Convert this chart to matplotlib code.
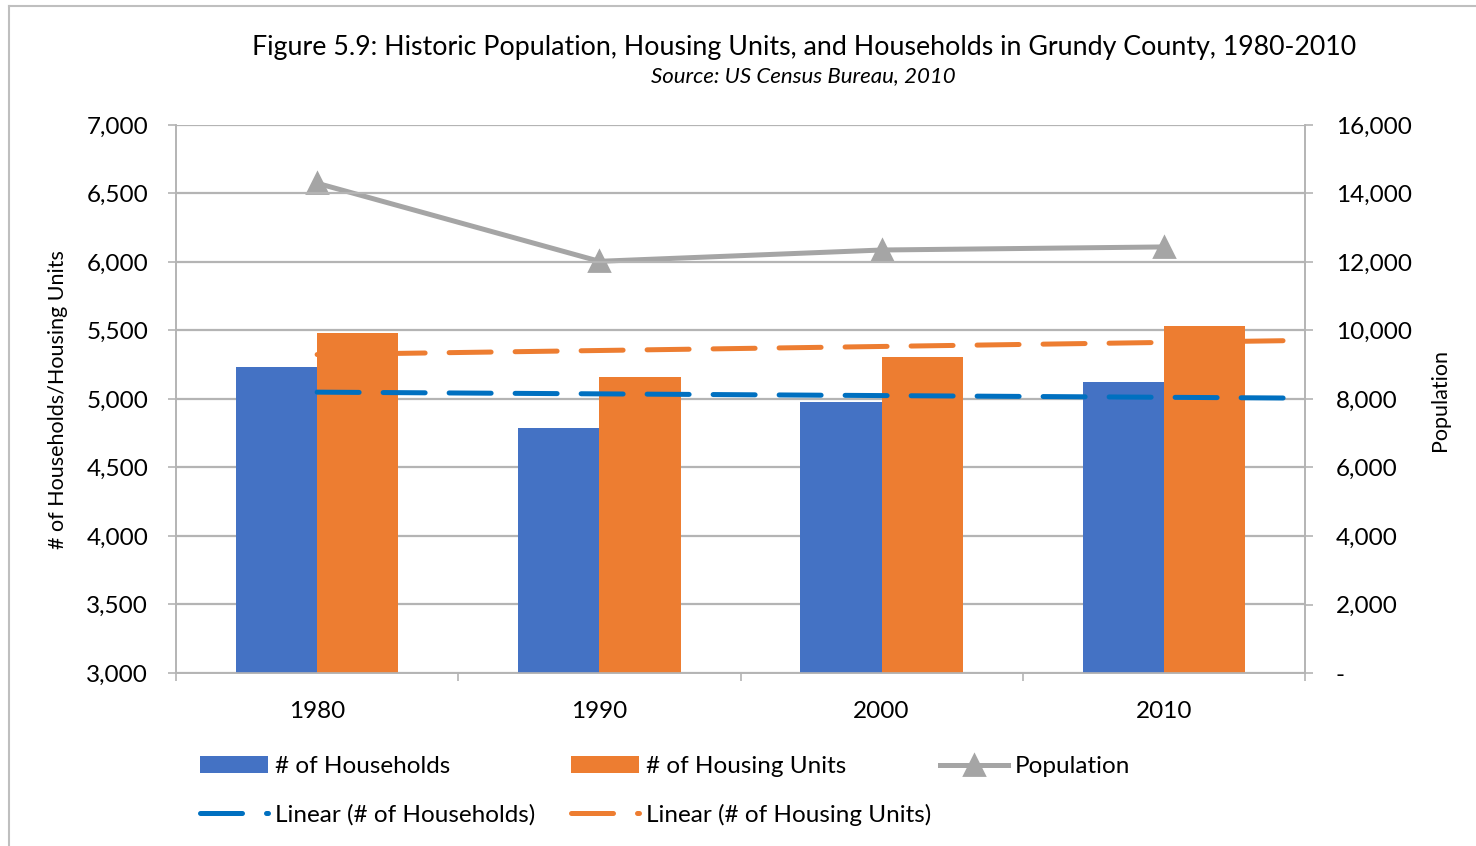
import numpy as np
import matplotlib.pyplot as plt
from matplotlib.lines import Line2D
from matplotlib.ticker import FuncFormatter, FixedLocator

plt.rcParams['font.family'] = ['Lato', 'DejaVu Sans']

# data
years = ['1980', '1990', '2000', '2010']
households = [5230, 4790, 4980, 5125]
housing_units = [5480, 5160, 5305, 5530]
population = [14300, 12020, 12350, 12440]

x = np.arange(len(years))
bar_w = 0.2875

# linear trendlines (least squares, like Excel)
hh_fit = np.polyfit(x, households, 1)
hu_fit = np.polyfit(x, housing_units, 1)
trend_x = np.array([0, 3.45])

fig = plt.figure(figsize=(14.76, 8.46), dpi=100)
ax = fig.add_axes([176 / 1476, 173 / 846, 1129 / 1476, 548 / 846])
ax2 = ax.twinx()

grid_c = '#b4b4b4'
ax.set_ylim(3000, 7000)
ax.set_xlim(-0.5, 3.5)
ax.set_yticks(range(3000, 7001, 500))
ax.yaxis.grid(True, color=grid_c, linewidth=1.6)
ax.set_axisbelow(True)

b1 = ax.bar(x - bar_w / 2, households, bar_w, color='#4472c4', label='# of Households', zorder=2)
b2 = ax.bar(x + bar_w / 2, housing_units, bar_w, color='#ed7d31', label='# of Housing Units', zorder=2)

dash = dict(linewidth=3.6, dashes=(8.4, 4.8), dash_capstyle='round', solid_capstyle='round', zorder=4)
t1, = ax.plot(trend_x, np.polyval(hh_fit, trend_x), color='#0070c0', label='Linear (# of Households)', **dash)
t2, = ax.plot(trend_x, np.polyval(hu_fit, trend_x), color='#ed7d31', label='Linear (# of Housing Units)', **dash)

ax2.set_ylim(0, 16000)
ax2.set_yticks(range(0, 16001, 2000))
p1, = ax2.plot(x, population, color='#a5a5a5', linewidth=3.6, marker='^', markersize=15,
               markeredgewidth=2, markeredgecolor='#a5a5a5', label='Population', zorder=5)
ax.set_zorder(ax2.get_zorder() + 1)
ax.patch.set_visible(False)

fmt = FuncFormatter(lambda v, p: '-' if v == 0 else f'{v:,.0f}')
ax.yaxis.set_major_formatter(FuncFormatter(lambda v, p: f'{v:,.0f}'))
ax2.yaxis.set_major_formatter(fmt)

ax.set_xticks(x)
ax.set_xticklabels(years)
ax.xaxis.set_minor_locator(FixedLocator([-0.5, 0.5, 1.5, 2.5, 3.5]))
ax.tick_params(axis='x', which='major', length=0, pad=20, labelsize=17.5)
ax.tick_params(axis='x', which='minor', length=6, width=1.2, color=grid_c)
ax.tick_params(axis='y', length=6, width=1.2, color=grid_c, pad=14, labelsize=17.5)
ax2.tick_params(axis='y', length=6, width=1.2, color=grid_c, pad=16, labelsize=17.5)

for a in (ax, ax2):
    a.spines['top'].set_visible(False)
    for s in ('left', 'right', 'bottom'):
        a.spines[s].set_color(grid_c)
        a.spines[s].set_linewidth(1.2)

fig.text(58 / 1476, 1 - 400 / 846, '# of Households/Housing Units', rotation=90,
         ha='center', va='center', fontsize=15.5)
fig.text(1440 / 1476, 1 - 400 / 846, 'Population', rotation=90,
         ha='center', va='center', fontsize=15.5)

fig.text(804 / 1476, 1 - 47 / 846, 'Figure 5.9: Historic Population, Housing Units, and Households in Grundy County, 1980-2010',
         ha='center', va='center', fontsize=19.25)
fig.text(803 / 1476, 1 - 76 / 846, 'Source: US Census Bureau, 2010',
         ha='center', va='center', fontsize=16, style='italic')

# legend laid out in three fixed-width columns, like Excel
leg_cols = [([b1, t1], 200), ([b2, t2], 571), ([p1], 940)]
for hs, left in leg_cols:
    fig.legend(handles=hs, labels=[h.get_label() for h in hs],
               loc='upper left', bbox_to_anchor=(left / 1476, 1 - 756 / 846),
               frameon=False, fontsize=17.5, handlelength=2.8, handletextpad=0.29,
               labelspacing=1.1, borderpad=0, borderaxespad=0)

# outer chart border
fig.add_artist(Line2D([9 / 1476, 9 / 1476], [0, 1 - 6 / 846], color='#bfbfbf', linewidth=1.5))
fig.add_artist(Line2D([9 / 1476, 1], [1 - 6 / 846, 1 - 6 / 846], color='#bfbfbf', linewidth=1.5))

fig.savefig('out.png', dpi=100)
